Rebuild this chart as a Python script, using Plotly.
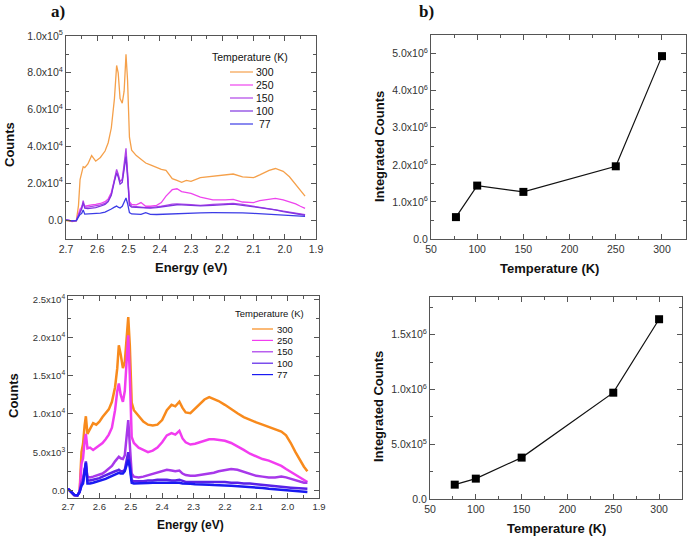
import plotly.graph_objects as go

W, H = 691, 541

# ---------------- data ----------------
temps = [300, 250, 150, 100, 77]

# top-left spectra
energy_top = [2.70, 2.68, 2.667, 2.660, 2.655, 2.650, 2.645, 2.640, 2.630, 2.618, 2.605, 2.590,
              2.575, 2.565, 2.555, 2.545, 2.538, 2.533, 2.527, 2.520, 2.514, 2.508, 2.503, 2.497,
              2.490, 2.475, 2.460, 2.445, 2.430, 2.410, 2.395, 2.380, 2.360, 2.345, 2.330, 2.315,
              2.300, 2.270, 2.230, 2.190, 2.165, 2.135, 2.100, 2.080, 2.050, 2.030, 2.005, 1.985,
              1.965, 1.950, 1.935]
top_300 = [-300, -800, -500, 8000, 22000, 26000, 29000, 28500, 30500, 35000, 32000, 34000,
           37500, 42000, 50000, 66000, 84000, 80000, 66000, 63500, 70000, 90000, 76000, 45000,
           38000, 35000, 33000, 31000, 30000, 28500, 27500, 27000, 22500, 21500, 20500, 21500,
           21000, 23000, 23800, 24500, 25000, 23500, 23000, 24500, 27000, 28000, 26500, 23500,
           19500, 16000, 13000]
top_250 = [0, -500, -300, 3000, 6000, 7000, 9000, 7500, 8000, 8300, 8500, 9000,
           10000, 11500, 15000, 22000, 26500, 24000, 21000, 22000, 28000, 35500, 25000, 10000,
           8500, 8200, 9500, 7500, 7500, 8000, 9500, 13000, 16500, 17000, 15500, 14800,
           14500, 12500, 11000, 11000, 11200, 9800, 9500, 10500, 11500, 11800, 11000, 10000,
           8800, 7500, 6300]
top_150 = [0, -500, -300, 2500, 5000, 6500, 10500, 7000, 7000, 7300, 7500, 8200,
           9000, 10500, 14000, 22000, 27500, 25000, 21000, 22000, 30000, 39000, 26000, 9000,
           7500, 7200, 7000, 6800, 6800, 7000, 7500, 8000, 8700, 8800, 8800, 8500,
           8300, 8000, 8500, 9000, 9100, 8500, 7500, 7000, 6300, 5800, 5000, 4300,
           3600, 3200, 2900]
top_100 = [0, -500, -300, 2000, 4500, 6000, 9500, 6500, 6200, 6400, 6800, 7500,
           8500, 10000, 13500, 21000, 25500, 23500, 19500, 20500, 27000, 34500, 23000, 8000,
           7000, 6800, 6600, 6500, 6500, 6800, 7200, 7600, 8200, 8300, 8200, 8000,
           7900, 7700, 8000, 8500, 8600, 8000, 7200, 6800, 6000, 5500, 4600, 4000,
           3300, 2900, 2600]
top_77 = [0, -500, -300, 1500, 3000, 3500, 5500, 3200, 3300, 3400, 3500, 3800,
          4300, 5000, 6000, 7000, 7600, 7000, 6500, 7500, 10000, 12000, 9000, 4000,
          3300, 3200, 3100, 4000, 3100, 3000, 3100, 3300, 3600, 3700, 3700, 3700,
          3800, 3900, 4000, 4100, 4200, 3900, 3600, 3400, 3200, 3000, 2800, 2600,
          2400, 2200, 2000]

# bottom-left spectra
energy_bot = [2.70, 2.69, 2.68, 2.67, 2.663, 2.657, 2.652, 2.647, 2.643, 2.638, 2.630, 2.620,
              2.610, 2.600, 2.590, 2.580, 2.570, 2.560, 2.550, 2.543, 2.538, 2.532, 2.525, 2.519,
              2.513, 2.508, 2.503, 2.497, 2.490, 2.475, 2.460, 2.445, 2.430, 2.415, 2.400, 2.385,
              2.370, 2.358, 2.345, 2.335, 2.325, 2.310, 2.295, 2.280, 2.265, 2.250, 2.235, 2.220,
              2.200, 2.180, 2.160, 2.140, 2.120, 2.100, 2.080, 2.060, 2.040, 2.020, 2.005, 1.990,
              1.975, 1.960, 1.948, 1.937]
bot_300 = [200, -200, -600, -650, -200, 5000, 6100, 8500, 9700, 7400, 8000, 8800,
           8600, 9000, 9600, 10100, 10600, 11600, 13500, 16000, 19000, 17800, 16000, 16800,
           20000, 22700, 19000, 11500, 10500, 9700, 9000, 8600, 8500, 8600, 9200, 10500,
           11200, 11000, 11600, 10800, 10200, 10100, 10700, 11300, 11900, 12200, 12000, 11700,
           11200, 10600, 10100, 9600, 9200, 8900, 8600, 8300, 8000, 7700, 7200, 6200,
           5000, 3900, 3100, 2500]
bot_250 = [200, -200, -600, -650, -200, 3500, 4200, 6500, 7400, 5500, 5600, 5300,
           5600, 5800, 6200, 6700, 7300, 8200, 10500, 13000, 14000, 12500, 11600, 13000,
           17000, 20300, 15000, 7000, 6200, 5600, 5300, 5000, 5200, 5600, 6300, 7200,
           7500, 7300, 7800, 6800, 6300, 6000, 6100, 6300, 6500, 6700, 6700, 6600,
           6500, 6200, 5800, 5300, 4800, 4400, 4100, 3900, 3600, 3200, 2800, 2400,
           2000, 1600, 1300, 1100]
bot_150 = [200, -200, -600, -650, -200, 1200, 1600, 2800, 3200, 1800, 1700, 1800,
           1900, 2000, 2200, 2500, 2800, 3200, 3800, 4200, 4400, 4200, 4100, 4600,
           7000, 9200, 6000, 2200, 1800, 1700, 1800, 2000, 2200, 2400, 2600, 2700,
           2600, 2500, 2600, 2200, 2000, 1900, 1900, 2000, 2100, 2200, 2300, 2500,
           2700, 2800, 2700, 2400, 2100, 1900, 1800, 1700, 1700, 1800, 1700, 1500,
           1300, 1100, 1000, 1000]
bot_100 = [200, -200, -600, -650, -200, 800, 1200, 2500, 3800, 1300, 1300, 1400,
           1500, 1600, 1800, 2000, 2200, 2400, 2500, 2600, 2700, 2500, 2500, 2700,
           3800, 5000, 3600, 1300, 1200, 1200, 1200, 1300, 1300, 1400, 1400, 1400,
           1300, 1300, 1400, 1200, 1100, 1100, 1100, 1100, 1100, 1100, 1100, 1100,
           1100, 1000, 1000, 900, 900, 800, 700, 600, 500, 450, 400, 350,
           300, 250, 200, 200]
bot_77 = [200, -200, -600, -650, -200, 600, 900, 2500, 3600, 900, 900, 1000,
          1100, 1200, 1300, 1500, 1700, 1900, 2100, 2200, 2300, 2200, 2200, 2500,
          3300, 4000, 3000, 1000, 900, 900, 900, 950, 1000, 1000, 1000, 1000,
          950, 950, 1000, 900, 850, 850, 800, 800, 750, 750, 700, 700,
          650, 600, 550, 500, 450, 400, 300, 200, 150, 100, 50, 0,
          -50, -100, -150, -200]

# integrated counts
temperature = [77, 100, 150, 250, 300]
integrated_top = [5.9e5, 1.44e6, 1.27e6, 1.96e6, 4.93e6]
integrated_bot = [1.31e5, 1.86e5, 3.78e5, 9.71e5, 1.642e6]

# ---------------- styles ----------------
colors_top = ["#F5A04A", "#EE44EE", "#B044E8", "#8034E0", "#3C3CE6"]
colors_bot = ["#F88A1C", "#F23CF0", "#A838EA", "#5A22E8", "#1A1AF2"]
FONT = "Arial, Liberation Sans, sans-serif"
AXC = "#555555"
TXT = "#333333"


def px(x):
    return x / W


def py(y):
    return 1 - y / H


def sci(v):
    if v == 0:
        return "0.0"
    e = 0
    m = abs(v)
    while m >= 10:
        m /= 10
        e += 1
    return f"{m:.1f}x10<sup>{e}</sup>"


fig = go.Figure()

top_series = [top_300, top_250, top_150, top_100, top_77]
bot_series = [bot_300, bot_250, bot_150, bot_100, bot_77]

for t, ys, c in zip(temps, top_series, colors_top):
    fig.add_trace(go.Scatter(x=energy_top, y=ys, mode="lines", name=str(t),
                             line=dict(color=c, width=1.3), xaxis="x", yaxis="y",
                             showlegend=False))
for t, ys, c in zip(temps, bot_series, colors_bot):
    fig.add_trace(go.Scatter(x=energy_bot, y=ys, mode="lines", name=str(t),
                             line=dict(color=c, width=2.5), xaxis="x3", yaxis="y3",
                             showlegend=False))

fig.add_trace(go.Scatter(x=temperature, y=integrated_top, mode="lines+markers",
                         line=dict(color="#111111", width=1.2),
                         marker=dict(symbol="square", size=8, color="#000000"),
                         xaxis="x2", yaxis="y2", showlegend=False))
fig.add_trace(go.Scatter(x=temperature, y=integrated_bot, mode="lines+markers",
                         line=dict(color="#111111", width=1.2),
                         marker=dict(symbol="square", size=8, color="#000000"),
                         xaxis="x4", yaxis="y4", showlegend=False))


def axis(domain, rng, tickvals, ticktext, minor_dtick, anchor, fs=10.5):
    return dict(domain=domain, range=rng, anchor=anchor,
                tickmode="array", tickvals=tickvals, ticktext=ticktext,
                ticks="inside", ticklen=5, tickcolor=AXC, tickwidth=1,
                minor=dict(ticks="inside", ticklen=3, tickcolor=AXC, dtick=minor_dtick,
                           tick0=0, showgrid=False),
                showline=True, linecolor=AXC, linewidth=1, mirror="allticks",
                showgrid=False, zeroline=False, automargin=False,
                tickfont=dict(family=FONT, size=fs, color=TXT))


ex = [2.7, 2.6, 2.5, 2.4, 2.3, 2.2, 2.1, 2.0, 1.9]
ext = [f"{v:.1f}" for v in ex]
tx = [50, 100, 150, 200, 250, 300]
txt = [str(v) for v in tx]

y1v = [0, 2e4, 4e4, 6e4, 8e4, 1e5]
y2v = [0, 1e6, 2e6, 3e6, 4e6, 5e6]
y3v = [0, 5e3, 1e4, 1.5e4, 2e4, 2.5e4]
y4v = [0, 5e5, 1e6, 1.5e6]

fig.update_layout(
    width=W, height=H, margin=dict(l=0, r=0, t=0, b=0),
    paper_bgcolor="white", plot_bgcolor="white", showlegend=False,
    xaxis=axis([px(66), px(316)], [2.7, 1.9], ex, ext, 0.05, "y"),
    yaxis=axis([py(239), py(36)], [-10300, 100000], y1v, [sci(v) for v in y1v], 1e4, "x"),
    xaxis2=axis([px(431), px(686)], [50, 326], tx, txt, 25, "y2"),
    yaxis2=axis([py(239), py(35)], [0, 5.5e6], y2v, [sci(v) for v in y2v], 5e5, "x2"),
    xaxis3=axis([px(68), px(319)], [2.7, 1.9], ex, ext, 0.05, "y3", 9.5),
    yaxis3=axis([py(498), py(296)], [-1000, 25450], y3v, [sci(v) for v in y3v], 2500, "x3", 9.5),
    xaxis4=axis([px(430), px(682)], [50, 325], tx, txt, 25, "y4"),
    yaxis4=axis([py(499), py(297)], [0, 1.845e6], y4v, [sci(v) for v in y4v], 2.5e5, "x4"),
)

ann = []


def label(text, x, y, size, angle=0, bold=True, family=FONT, xanchor="center"):
    ann.append(dict(text=f"<b>{text}</b>" if bold else text, x=px(x), y=py(y),
                    xref="paper", yref="paper", showarrow=False, textangle=angle,
                    xanchor=xanchor, yanchor="middle",
                    font=dict(family=family, size=size, color="#111111")))


label("Counts", 9, 145, 13, -90)
label("Energy (eV)", 191, 267, 13)
label("Integrated Counts", 379, 147, 13, -90)
label("Temperature (K)", 549, 268, 13)
label("Counts", 13, 396, 13, -90)
label("Energy (eV)", 191, 525, 12)
label("Integrated Counts", 378, 407, 13, -90)
label("Temperature (K)", 556, 528, 13)
label("a)", 58, 12, 17, family="Liberation Serif, Times New Roman, serif")
label("b)", 426, 12, 17, family="Liberation Serif, Times New Roman, serif")

shapes = []
# legend, top-left
label("Temperature (K)", 250, 57, 10.5, bold=False)
for i, (t, c) in enumerate(zip(temps, colors_top)):
    yy = 72 + i * 13
    shapes.append(dict(type="line", xref="paper", yref="paper", x0=px(230), x1=px(253),
                       y0=py(yy), y1=py(yy), line=dict(color=c, width=1.2)))
    label(str(t), 264.5, yy, 10.5, bold=False)
# legend, bottom-left
label("Temperature (K)", 269.5, 313, 9.5, bold=False)
for i, (t, c) in enumerate(zip(temps, colors_bot)):
    yy = 329 + i * 11.4
    shapes.append(dict(type="line", xref="paper", yref="paper", x0=px(252), x1=px(273),
                       y0=py(yy), y1=py(yy), line=dict(color=c, width=1.2)))
    label(str(t), 274.5, yy, 9.5, bold=False, xanchor="left")

fig.update_layout(annotations=ann, shapes=shapes)
fig.write_html("out.html", config={"displayModeBar": False},
               post_script="document.body.style.margin='0';document.body.style.padding='0';")
